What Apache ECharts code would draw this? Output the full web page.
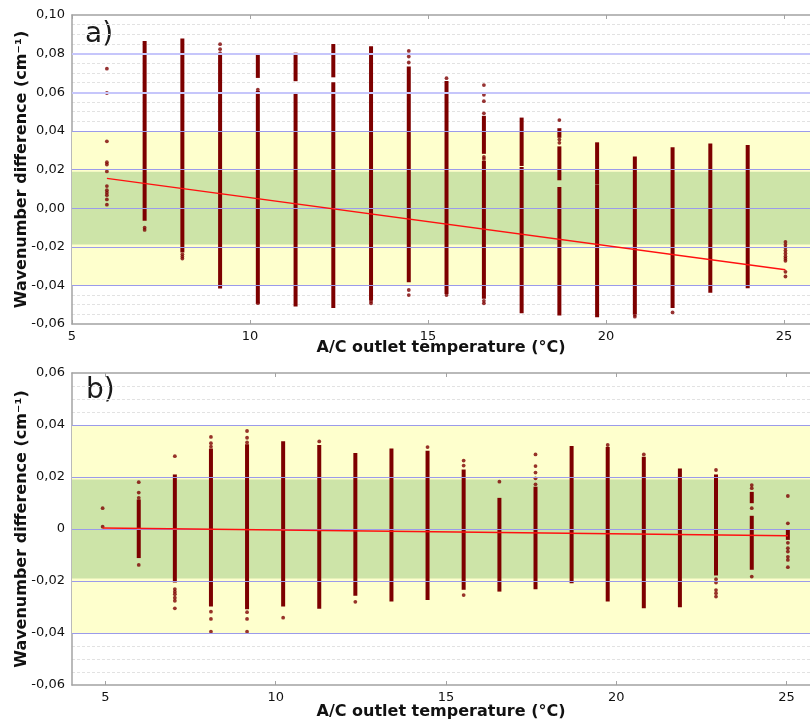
<!DOCTYPE html>
<html><head><meta charset="utf-8">
<script src="https://cdn.jsdelivr.net/npm/echarts@6/dist/echarts.min.js"></script>
<style>html,body{margin:0;padding:0;background:#fff}#c{width:810px;height:722px}</style>
</head><body><div id="c"></div><script>
// ---------- data ----------
const xTickValues = [5, 10, 15, 20, 25];
const majorLinesA = [0.08, 0.06, 0.04, 0.02, 0, -0.02, -0.04];
const majorLinesB = [0.04, 0.02, 0, -0.02, -0.04];
const outerBand = [-0.04, 0.04];
const innerBandA = [-0.0188, 0.0188];
const innerBandB = [-0.019, 0.019];

// panel a) continuous runs of points: [temperature, low, high]
const segmentsA = [
  [7.04, -0.0058, 0.0857],
  [8.10, -0.0222, 0.0871],
  [9.16, 0.0665, 0.0794], [9.16, -0.0409, 0.0655],
  [10.22, 0.0682, 0.0785], [10.22, -0.0486, 0.0599],
  [11.28, 0.0665, 0.0797], [11.28, -0.0502, 0.0592],
  [12.34, 0.0685, 0.0842], [12.34, -0.0509, 0.0644],
  [13.40, -0.0080, 0.0831], [13.40, -0.0471, -0.0092],
  [14.46, -0.0376, 0.0725],
  [15.52, -0.0437, 0.0651],
  [16.57, 0.0289, 0.0470], [16.57, -0.0462, 0.0238],
  [17.63, 0.0226, 0.0461], [17.63, -0.0536, 0.0205],
  [18.69, 0.0372, 0.0406], [18.69, 0.0152, 0.0312], [18.69, -0.0548, 0.0102],
  [19.75, 0.0131, 0.0333], [19.75, -0.0557, 0.0114],
  [20.81, -0.0540, 0.0260],
  [21.87, -0.0509, 0.0308],
  [22.93, -0.0430, 0.0327],
  [23.98, -0.0407, 0.0319]
];
// panel a) isolated points: [temperature, difference]
const pointsA = [
  [5.98, 0.0722], [5.98, 0.0596], [5.98, 0.0346], [5.98, 0.0238], [5.98, 0.0226],
  [5.98, 0.0190], [5.98, 0.0114], [5.98, 0.0093], [5.98, 0.0080], [5.98, 0.0067],
  [5.98, 0.0045], [5.98, 0.0018],
  [7.04, -0.0101], [7.04, -0.0113],
  [8.10, -0.0239], [8.10, -0.0251], [8.10, -0.0261],
  [9.16, 0.0849], [9.16, 0.0823], [9.16, 0.0802],
  [10.22, 0.0613], [10.22, -0.0492],
  [13.40, -0.0483], [13.40, -0.0493],
  [14.46, 0.0814], [14.46, 0.0785], [14.46, 0.0754], [14.46, -0.0424], [14.46, -0.0450],
  [15.52, 0.0673], [15.52, -0.0450],
  [16.57, 0.0637], [16.57, 0.0587], [16.57, 0.0554], [16.57, 0.0491],
  [16.57, 0.0265], [16.57, 0.0255], [16.57, -0.0480], [16.57, -0.0493],
  [18.69, 0.0456], [18.69, 0.0355], [18.69, 0.0338],
  [20.81, -0.0552], [20.81, -0.0562],
  [21.87, -0.0540],
  [25.04, -0.0175], [25.04, -0.0190], [25.04, -0.0205], [25.04, -0.0220],
  [25.04, -0.0235], [25.04, -0.0250], [25.04, -0.0262], [25.04, -0.0273],
  [25.04, -0.0330], [25.04, -0.0354]
];
const fitA = [[5.98, 0.0154], [25.04, -0.0319]];

// panel b)
const segmentsB = [
  [5.98, -0.0106, 0.0108],
  [7.04, -0.0200, 0.0204],
  [8.10, -0.0292, 0.0304],
  [9.16, -0.0303, 0.0320],
  [10.22, -0.0292, 0.0332],
  [11.28, -0.0301, 0.0317],
  [12.34, -0.0251, 0.0287],
  [13.40, -0.0273, 0.0304],
  [14.46, -0.0267, 0.0295],
  [15.52, -0.0228, 0.0223],
  [16.57, -0.0235, 0.0114],
  [17.63, -0.0226, 0.0157],
  [18.69, -0.0203, 0.0313],
  [19.75, -0.0273, 0.0310],
  [20.81, -0.0299, 0.0272],
  [21.87, -0.0295, 0.0227],
  [22.93, -0.0173, 0.0204],
  [23.98, 0.0105, 0.0137], [23.98, -0.0151, 0.0045],
  [25.04, -0.0036, -0.0007]
];
const pointsB = [
  [4.92, 0.0080], [4.92, 0.0009],
  [5.98, 0.0180], [5.98, 0.0140], [5.98, 0.0120], [5.98, -0.0138],
  [7.04, 0.0280], [7.04, -0.0231], [7.04, -0.0241], [7.04, -0.0251], [7.04, -0.0264],
  [7.04, -0.0276], [7.04, -0.0305],
  [8.10, 0.0354], [8.10, 0.0330], [8.10, 0.0317], [8.10, -0.0318], [8.10, -0.0346], [8.10, -0.0395],
  [9.16, 0.0377], [9.16, 0.0351], [9.16, 0.0333], [9.16, -0.0320], [9.16, -0.0346], [9.16, -0.0395],
  [10.22, -0.0341],
  [11.28, 0.0337],
  [12.34, -0.0280],
  [14.46, 0.0315],
  [15.52, 0.0263], [15.52, 0.0244], [15.52, -0.0254],
  [16.57, 0.0182],
  [17.63, 0.0287], [17.63, 0.0242], [17.63, 0.0217], [17.63, 0.0195], [17.63, 0.0172],
  [19.75, 0.0323],
  [20.81, 0.0287],
  [22.93, 0.0227], [22.93, -0.0193], [22.93, -0.0206], [22.93, -0.0235], [22.93, -0.0247], [22.93, -0.0260],
  [23.98, 0.0169], [23.98, 0.0157], [23.98, 0.0080], [23.98, -0.0183],
  [25.04, 0.0127], [25.04, 0.0022], [25.04, -0.0053], [25.04, -0.0074], [25.04, -0.0087],
  [25.04, -0.0107], [25.04, -0.0119], [25.04, -0.0147]
];
const fitB = [[4.92, 0.0004], [25.04, -0.0026]];

// ---------- styling ----------
const DOT = '#7d0000';
const FONT = 'DejaVu Sans';
const AXIS_GRAY = '#a3a3a3';
const xName = 'A/C outlet temperature (°C)';
const yName = 'Wavenumber difference (cm⁻¹)';

function fmtA(v) { return v.toFixed(2).replace('.', ','); }
function fmtB(v) { return Math.abs(v) < 1e-9 ? '0' : v.toFixed(2).replace('.', ','); }

function renderSeg(params, api) {
  const top = api.coord([api.value(0), api.value(2)]);
  const bot = api.coord([api.value(0), api.value(1)]);
  return {
    type: 'rect',
    shape: { x: top[0] - 2, y: top[1] - 1.5, width: 4, height: bot[1] - top[1] + 3 },
    style: { fill: DOT }
  };
}

function xAxisPair(gridIndex, min, max, gap) {
  const common = {
    type: 'value', gridIndex, min, max,
    axisLine: { show: true, onZero: false, lineStyle: { color: AXIS_GRAY, width: 1.5 } },
    axisTick: { show: true, inside: true, length: 4, customValues: xTickValues, lineStyle: { color: AXIS_GRAY } },
    splitLine: { show: false }
  };
  return [
    Object.assign({}, common, {
      position: 'bottom',
      axisLabel: { customValues: xTickValues, fontFamily: FONT, fontSize: 13, color: '#111', margin: 6 },
      name: xName, nameLocation: 'middle', nameGap: gap, nameMoveOverlap: false,
      nameTextStyle: { fontFamily: FONT, fontWeight: 'bold', fontSize: 16, color: '#111' }
    }),
    Object.assign({}, common, { position: 'top', axisLabel: { show: false } })
  ];
}

function yAxis(gridIndex, min, max, fmt) {
  return {
    type: 'value', gridIndex, min, max, interval: 0.02,
    axisLine: { show: true, lineStyle: { color: AXIS_GRAY, width: 1.5 } },
    axisTick: { show: false },
    axisLabel: { formatter: fmt, fontFamily: FONT, fontSize: 13, color: '#111', margin: 7 },
    splitLine: { show: false },
    minorTick: { show: false, splitNumber: 4 },
    minorSplitLine: { show: true, lineStyle: { color: '#e2e2e2', type: [3, 2], width: 1 } },
    name: yName, nameLocation: 'middle', nameGap: 42, nameRotate: 90, nameMoveOverlap: false,
    nameTextStyle: { fontFamily: FONT, fontWeight: 'bold', fontSize: 16, color: '#111' }
  };
}

function panelSeries(idx, segs, pts, fit, majors, inner) {
  return [
    { type: 'line', xAxisIndex: idx * 2, yAxisIndex: idx, data: [], z: -1, silent: true,
      markArea: { silent: true, data: [
        [{ yAxis: outerBand[0], itemStyle: { color: '#feffcd' } }, { yAxis: outerBand[1] }],
        [{ yAxis: inner[0], itemStyle: { color: '#cde4a8' } }, { yAxis: inner[1] }]
      ] } },
    { type: 'line', xAxisIndex: idx * 2, yAxisIndex: idx, data: [], z: 1, silent: true,
      markLine: { silent: true, symbol: 'none', label: { show: false },
        data: majors.map(v => ({ yAxis: v, lineStyle: v > 0.05
          ? { color: '#c6c6fb', width: 2, type: 'solid' }
          : { color: '#9b9bea', width: 1.2, type: 'solid' } })) } },
    { type: 'custom', xAxisIndex: idx * 2, yAxisIndex: idx, data: segs, z: 3,
      encode: { x: 0, y: [1, 2] }, renderItem: renderSeg },
    { type: 'scatter', xAxisIndex: idx * 2, yAxisIndex: idx, data: pts, z: 4,
      symbolSize: 3.8, itemStyle: { color: DOT } },
    { type: 'line', xAxisIndex: idx * 2, yAxisIndex: idx, data: fit, z: 5,
      showSymbol: false, lineStyle: { color: '#ff1010', width: 1.4 } }
  ];
}

const chart = echarts.init(document.getElementById('c'), null, { renderer: 'canvas' });
chart.setOption({
  animation: false,
  backgroundColor: '#ffffff',
  grid: [
    { left: 72, top: 15, width: 738, height: 309 },
    { left: 72, top: 373, width: 738, height: 312 }
  ],
  xAxis: [].concat(xAxisPair(0, 5, 25.73, 16), xAxisPair(1, 4.02, 25.69, 19)),
  yAxis: [yAxis(0, -0.06, 0.10, fmtA), yAxis(1, -0.06, 0.06, fmtB)],
  graphic: [
    { type: 'text', left: 85, top: 21, style: { text: 'a)', font: '28px "DejaVu Sans"', fill: '#1a1a1a' } },
    { type: 'text', left: 86, top: 377, style: { text: 'b)', font: '28px "DejaVu Sans"', fill: '#1a1a1a' } }
  ],
  series: [].concat(
    panelSeries(0, segmentsA, pointsA, fitA, majorLinesA, innerBandA),
    panelSeries(1, segmentsB, pointsB, fitB, majorLinesB, innerBandB)
  )
});
</script></body></html>
